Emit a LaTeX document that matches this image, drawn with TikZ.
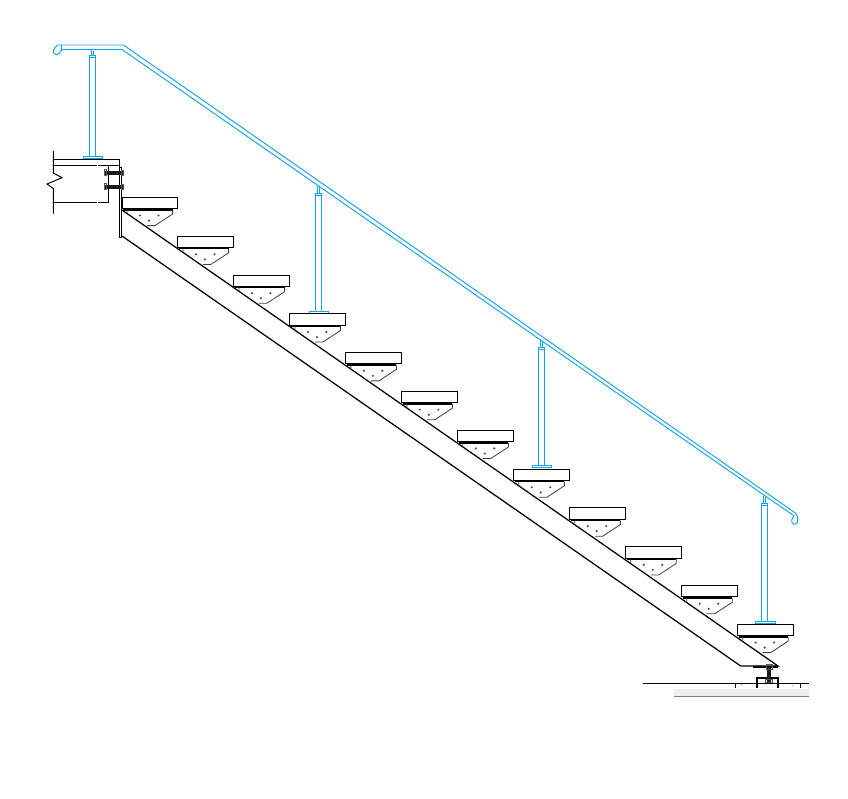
\documentclass[tikz,border=0pt]{standalone}
\definecolor{railblue}{HTML}{14A3E4}
\definecolor{bandgray}{HTML}{EEEEEE}
\tikzset{
  rail/.style={draw=railblue,line width=0.95pt,fill=none},
  steel/.style={draw=black,line width=0.95pt},
  thin steel/.style={draw=black!75,line width=0.8pt},
  heavy/.style={draw=black,line width=2pt},
  treadbox/.style={draw=black,line width=1pt,fill=white},
  boltline/.style={draw=black!90,line width=3.6pt},
  nut/.style={draw=black!65,line width=0.9pt},
}
\begin{document}
\begin{tikzpicture}[x=1pt,y=-1pt]
\useasboundingbox (0,0) rectangle (848,798);
\fill[white] (0,0) rectangle (848,798);
% handrail
\draw[rail] (58,45) -- (123.5,45) -- (795,512.7)
  .. controls (797.7,516) and (798.5,519) .. (797.7,521.7)
  .. controls (797,523.5) and (795.5,524.5) .. (794,524.3)
  .. controls (792,524) and (791.4,521.5) .. (791.7,519.8)
  .. controls (792,518) and (793.2,517) .. (794,516)
  -- (792.7,515) -- (122,49.5) -- (61.3,49.5);
\draw[rail] (61.3,45) -- (61.3,50.7)
  .. controls (60.5,52.5) and (58.5,54.6) .. (56.3,54.7)
  .. controls (54.2,54.5) and (53,52.6) .. (53.3,51)
  .. controls (53.6,48.5) and (56,46) .. (58,45);
% posts
\foreach \px/\py/\ptop/\pstem/\pbot in {89.3/156.2/55.3/49.5/156.2, 315.3/311.3/193.3/186/311.3, 538.3/465.3/347.3/340/465.3, 761.7/621.3/503.3/496/621.3}{
  \draw[rail] (\px,\pbot) -- (\px,\ptop) -- (\px+6,\ptop) -- (\px+6,\pbot);
  \draw[rail] (\px,\ptop+2.2) -- (\px+6,\ptop+2.2);
  \draw[rail] (\px+2.2,\ptop) -- (\px+2.2,\pstem) (\px+3.9,\ptop) -- (\px+3.9,\pstem+1);
  \draw[rail] (\px-6,\py) rectangle (\px+13.4,\py+2.4);
}
% landing beam
\draw[steel] (53.3,151) -- (53.3,173) -- (62,177.7) -- (47,184) -- (53.3,188.5) -- (53.3,213.5);
\draw[steel] (53.3,159) -- (119.3,159);
\draw[steel] (53.3,165) -- (97.3,165) (98.3,165) -- (119.3,165);
\draw[steel] (53.3,202) -- (97.3,202) (98.3,202) -- (108.5,202);
\draw[steel] (108.5,165) -- (108.5,202);
% plate
\draw[steel] (119.3,159) -- (119.3,237.3) -- (121.3,237.3) -- (121.3,167.3) -- (119.3,167.3);
% bolts
\foreach \by in {172.7,186.7}{
  \draw[boltline] (105,\by) -- (123,\by);
  \draw[nut] (104.3,\by-3) rectangle (106.6,\by+3);
  \draw[nut] (121.6,\by-2.7) rectangle (123.6,\by+2.7);
}
% stringer
\draw[steel,line width=1.25pt] (122,210) -- (778,666) -- (740.7,666) -- (122,236);
\draw[heavy] (753,666.6) -- (778,666.6);
% treads and brackets
\foreach \i in {0,...,11}{
  \begin{scope}[shift={(55.97*\i,38.82*\i)}]
    \draw[treadbox] (122,197.4) rectangle (177.4,208.7);
    \draw[heavy] (123,209.6) -- (172.6,209.6);
    \draw[thin steel] (127,210) -- (127,213) (172.6,210) -- (172.6,214) -- (155,225.6) -- (147,225.6);
    \fill[black!70] (140,215.5) circle (1.2) (149,220.6) circle (1.2) (158.5,215.5) circle (1.2);
  \end{scope}
}
% floor
\fill[bandgray] (674,689) rectangle (809,696);
\draw[black!50,line width=1pt] (674,696.3) -- (809,696.3);
\draw[steel] (643,683.3) -- (809,683.3);
\draw[steel] (735.3,683.3) -- (735.3,688) (800.3,683.3) -- (800.3,688);
\fill[black!50] (741.6,684.6) circle (0.7) (793,686) circle (0.7);
% support
\draw[heavy] (757,688) -- (757,677.8) -- (778,677.8) -- (778,688);
\draw[boltline] (769,667) -- (769,682);
\draw[nut] (766,664.5) rectangle (772,669.5);
\draw[nut] (765.5,679) rectangle (772.5,682.5);
\end{tikzpicture}
\end{document}
